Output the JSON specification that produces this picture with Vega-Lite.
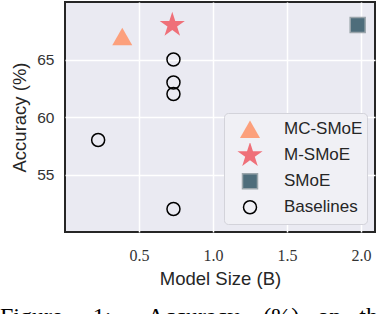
{
  "$schema": "https://vega.github.io/schema/vega-lite/v6.json",
  "width": 310,
  "height": 230,
  "autosize": {"type": "none"},
  "padding": {"left": 65, "top": 2, "right": 3, "bottom": 82},
  "background": "white",
  "title": {
    "text": "Figure\u00a0\u00a0\u00a0\u00a0\u00a01:\u00a0\u00a0\u00a0\u00a0\u00a0\u00a0Accuracy\u00a0\u00a0\u00a0\u00a0(%)\u00a0\u00a0\u00a0on\u00a0\u00a0\u00a0the",
    "orient": "bottom",
    "anchor": "start",
    "frame": "group",
    "dx": -65,
    "offset": 17,
    "font": "Liberation Serif",
    "fontSize": 24,
    "fontWeight": "normal",
    "color": "black"
  },
  "data": {
    "values": [
      {"series": "MC-SMoE", "size_b": 0.387, "acc": 67.0},
      {"series": "M-SMoE", "size_b": 0.725, "acc": 68.0},
      {"series": "SMoE", "size_b": 1.978, "acc": 68.0},
      {"series": "Baselines", "size_b": 0.733, "acc": 65.0},
      {"series": "Baselines", "size_b": 0.733, "acc": 63.0},
      {"series": "Baselines", "size_b": 0.733, "acc": 62.0},
      {"series": "Baselines", "size_b": 0.224, "acc": 58.0},
      {"series": "Baselines", "size_b": 0.733, "acc": 52.0}
    ]
  },
  "mark": {"type": "point", "strokeWidth": 1.5, "opacity": 1},
  "encoding": {
    "x": {
      "field": "size_b", "type": "quantitative",
      "scale": {"domain": [0, 2.095], "nice": false, "zero": false},
      "axis": {
        "title": "Model Size (B)",
        "values": [0.5, 1.0, 1.5, 2.0],
        "format": ".1f",
        "labelFont": "Liberation Serif",
        "labelFontSize": 16,
        "labelPadding": 15,
        "titlePadding": 6
      }
    },
    "y": {
      "field": "acc", "type": "quantitative",
      "scale": {"domain": [50, 70], "nice": false, "zero": false},
      "axis": {
        "title": "Accuracy (%)",
        "values": [55, 60, 65],
        "labelFont": "Liberation Sans",
        "labelFontSize": 15.5,
        "labelPadding": 11,
        "titlePadding": 7
      }
    },
    "shape": {
      "field": "series", "type": "nominal",
      "scale": {"domain": ["MC-SMoE", "M-SMoE", "SMoE", "Baselines"], "range": ["triangle-up", "M0,-1L0.2245,-0.309L0.951,-0.309L0.363,0.118L0.588,0.809L0,0.382L-0.588,0.809L-0.363,0.118L-0.951,-0.309L-0.2245,-0.309Z", "square", "circle"]},
      "legend": {"title": null}
    },
    "fill": {
      "field": "series", "type": "nominal",
      "scale": {"domain": ["MC-SMoE", "M-SMoE", "SMoE", "Baselines"], "range": ["#FCA07C", "#EF7079", "#4E6D7B", "transparent"]},
      "legend": {"title": null}
    },
    "stroke": {
      "field": "series", "type": "nominal",
      "scale": {"domain": ["MC-SMoE", "M-SMoE", "SMoE", "Baselines"], "range": ["transparent", "transparent", "#9aa5ab", "black"]},
      "legend": {"title": null}
    },
    "size": {
      "field": "series", "type": "nominal",
      "scale": {"type": "ordinal", "domain": ["MC-SMoE", "M-SMoE", "SMoE", "Baselines"], "range": [400, 700, 225, 169]},
      "legend": {"title": null}
    }
  },
  "config": {
    "view": {"fill": "#EAEAF2", "stroke": "#262626", "strokeWidth": 2},
    "axis": {
      "domain": false,
      "ticks": false,
      "grid": true,
      "gridColor": "white",
      "gridWidth": 1.5,
      "labelColor": "#333333",
      "titleColor": "#262626",
      "titleFont": "Liberation Sans",
      "titleFontSize": 18.5,
      "titleFontWeight": "normal"
    },
    "legend": {
      "orient": "bottom-right",
      "offset": 8,
      "padding": 4,
      "symbolOffset": 8,
      "labelOffset": 20,
      "rowPadding": 1,
      "clipHeight": 24.5,
      "labelFont": "Liberation Sans",
      "labelFontSize": 17,
      "labelColor": "#262626",
      "fillColor": "#F0F0F5",
      "strokeColor": "#D3D3DA",
      "cornerRadius": 4,
      "symbolOpacity": 1
    }
  }
}
